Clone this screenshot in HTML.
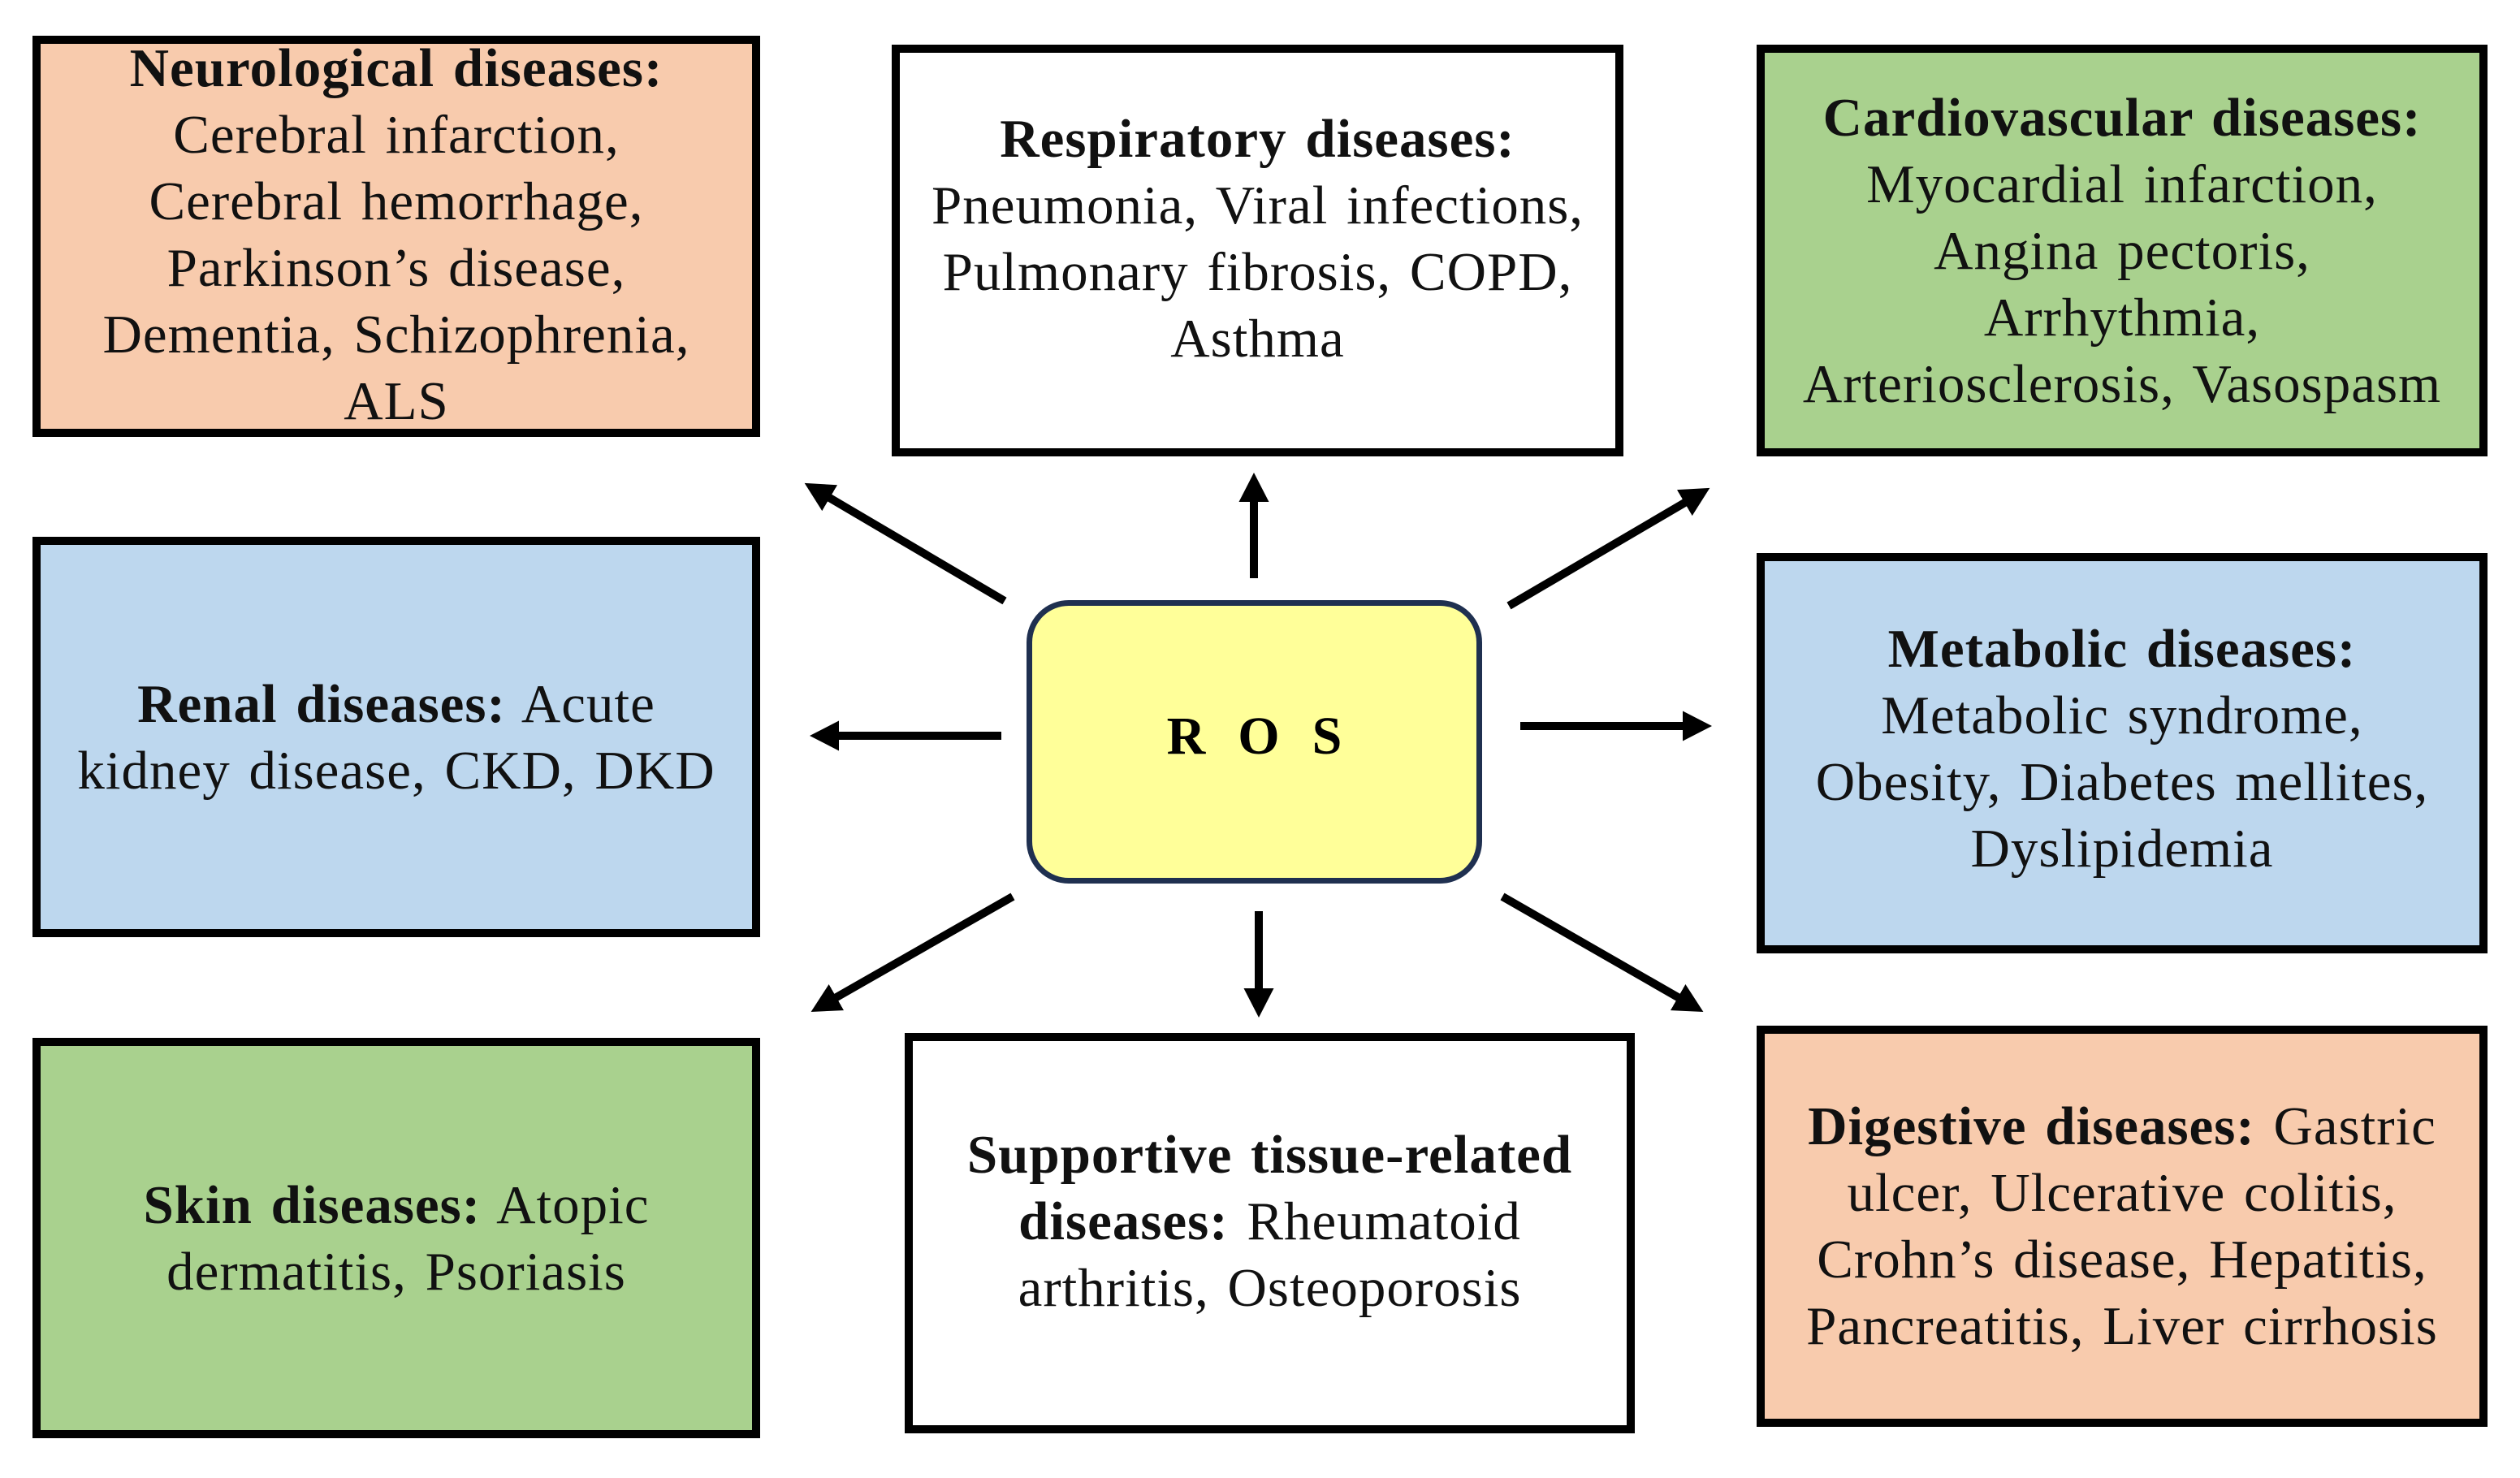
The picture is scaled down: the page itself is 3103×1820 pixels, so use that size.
<!DOCTYPE html>
<html><head><meta charset="utf-8"><style>
html,body{margin:0;padding:0;background:#fff;}
body{width:3103px;height:1820px;position:relative;overflow:hidden;font-family:"Liberation Serif",serif;}
.b{position:absolute;box-sizing:border-box;border:10px solid #000;display:flex;align-items:center;justify-content:center;text-align:center;font-size:67px;line-height:82px;color:#111;letter-spacing:1px;word-spacing:5px;}
.b b{font-weight:bold;}
.p{background:#F8CBAD}.g{background:#A9D18E}.bl{background:#BDD7EE}.w{background:#fff}
</style></head><body>
<svg width="3103" height="1820" style="position:absolute;left:0;top:0">
<defs><marker id="a" markerWidth="4.5" markerHeight="4.5" refX="2.4" refY="2.25" orient="auto" markerUnits="strokeWidth"><path d="M0,0.4 L3.6,2.25 L0,4.1 Z" fill="#000"/></marker></defs>
<g stroke="#000" stroke-width="10" marker-end="url(#a)">
<line x1="1544" y1="712" x2="1544" y2="594"/>
<line x1="1550" y1="1122" x2="1550" y2="1241"/>
<line x1="1233" y1="906" x2="1009" y2="906"/>
<line x1="1872" y1="894" x2="2096" y2="894"/>
<line x1="1237" y1="740" x2="1001" y2="601"/>
<line x1="1858" y1="746" x2="2095" y2="607"/>
<line x1="1247" y1="1104" x2="1009" y2="1240"/>
<line x1="1850" y1="1104" x2="2087" y2="1240"/>
</g></svg>
<div class="b p" style="left:40px;top:44px;width:896px;height:494px;padding-bottom:4px"><div><b>Neurological diseases:</b><br>Cerebral infarction,<br>Cerebral hemorrhage,<br>Parkinson’s disease,<br>Dementia, Schizophrenia,<br>ALS</div></div>
<div class="b w" style="left:1098px;top:55px;width:901px;height:507px;padding-bottom:30px"><div><b>Respiratory diseases:</b><br>Pneumonia, Viral infections,<br>Pulmonary fibrosis, COPD,<br>Asthma</div></div>
<div class="b g" style="left:2163px;top:55px;width:900px;height:507px"><div><b>Cardiovascular diseases:</b><br>Myocardial infarction,<br>Angina pectoris,<br>Arrhythmia,<br>Arteriosclerosis, Vasospasm</div></div>
<div class="b bl" style="left:40px;top:661px;width:896px;height:493px"><div><b>Renal diseases:</b> Acute<br>kidney disease, CKD, DKD</div></div>
<div class="b bl" style="left:2163px;top:681px;width:900px;height:493px;padding-bottom:12px"><div><b>Metabolic diseases:</b><br>Metabolic syndrome,<br>Obesity, Diabetes mellites,<br>Dyslipidemia</div></div>
<div class="b g" style="left:40px;top:1278px;width:896px;height:493px"><div><b>Skin diseases:</b> Atopic<br>dermatitis, Psoriasis</div></div>
<div class="b w" style="left:1114px;top:1272px;width:899px;height:493px;padding-bottom:30px"><div><b>Supportive tissue-related<br>diseases:</b> Rheumatoid<br>arthritis, Osteoporosis</div></div>
<div class="b p" style="left:2163px;top:1263px;width:900px;height:494px"><div><b>Digestive diseases:</b> Gastric<br>ulcer, Ulcerative colitis,<br>Crohn’s disease, Hepatitis,<br>Pancreatitis, Liver cirrhosis</div></div>
<div style="position:absolute;left:1264px;top:739px;width:561px;height:349px;box-sizing:border-box;border:7px solid #1F3050;border-radius:52px;background:#FFFF99;display:flex;align-items:center;justify-content:center;font-size:66px;font-weight:bold;letter-spacing:40px;padding-left:40px;padding-bottom:14px">ROS</div>
</body></html>
